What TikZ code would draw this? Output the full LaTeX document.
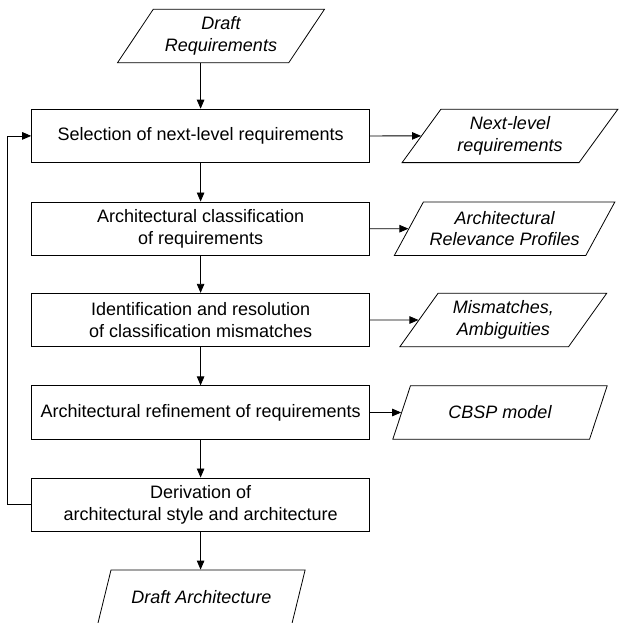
\documentclass[tikz,border=0pt]{standalone}
\usepackage{fontspec}
\setmainfont{Liberation Sans}
\usetikzlibrary{shapes.geometric,arrows.meta}

\begin{document}
\begin{tikzpicture}[x=1pt,y=-1pt,
    font=\fontsize{18}{21.7}\selectfont,
    >={Triangle[length=9pt,width=7.5pt]},
    procbox/.style={draw,line width=0.8pt,minimum width=338pt,minimum height=53.5pt,align=center,inner sep=0pt},
    databox/.style={draw,line width=0.8pt,trapezium,trapezium stretches=true,
        trapezium left angle=52.5,trapezium right angle=127.5,
        minimum height=53.4pt,align=center,inner sep=0pt,font=\fontsize{18}{21.7}\selectfont\itshape}]
    \useasboundingbox (0,0) rectangle (618,623);

    % process steps
    \node[procbox] (sel) at (200.6,135.9) {Selection of next-level requirements};
    \node[procbox] (cls) at (200.6,228.7) {Architectural classification\\of requirements};
    \node[procbox] (res) at (200.6,320) {Identification and resolution\\of classification mismatches};
    \node[procbox] (ref) at (200.6,412.5) {Architectural refinement of requirements};
    \node[procbox] (der) at (200.6,504.7) {Derivation of\\architectural style and architecture};

    % artifacts
    \node[databox,minimum width=207.5pt] (drq) at (221,36) {Draft\\Requirements};
    \node[databox,minimum width=216pt] (nxt) at (510,135.9) {Next-level\\requirements};
    \node[databox,minimum width=221pt] (arp) at (504.6,228.7) {Architectural\\Relevance Profiles};
    \node[databox,minimum width=207pt] (mis) at (503.3,320) {Mismatches,\\Ambiguities};
    \node[databox,minimum width=214.5pt] (cbsp) at (500,412.5) {CBSP model};
    \node[databox,minimum width=207.6pt] (dar) at (201.5,596.7) {Draft Architecture};

    \draw[->,line width=0.8pt] (drq.south -| sel.north) -- (sel.north);
    \draw[->,line width=0.8pt] (sel.south) -- (cls.north);
    \draw[->,line width=0.8pt] (cls.south) -- (res.north);
    \draw[->,line width=0.8pt] (res.south) -- (ref.north);
    \draw[->,line width=0.8pt] (ref.south) -- (der.north);
    \draw[->,line width=0.8pt] (der.south) -- (der.south |- dar.north);

    \draw[->,line width=0.8pt] (sel.east) -- (nxt.west);
    \draw[->,line width=0.8pt] (cls.east) -- (arp.west);
    \draw[->,line width=0.8pt] (res.east) -- (mis.west);
    \draw[->,line width=0.8pt] (ref.east) -- (cbsp.west);

    % iteration back to the top
    \draw[->,line width=0.8pt] (der.west) -- ++(-23.4,0) |- (sel.west);
\end{tikzpicture}
\end{document}
